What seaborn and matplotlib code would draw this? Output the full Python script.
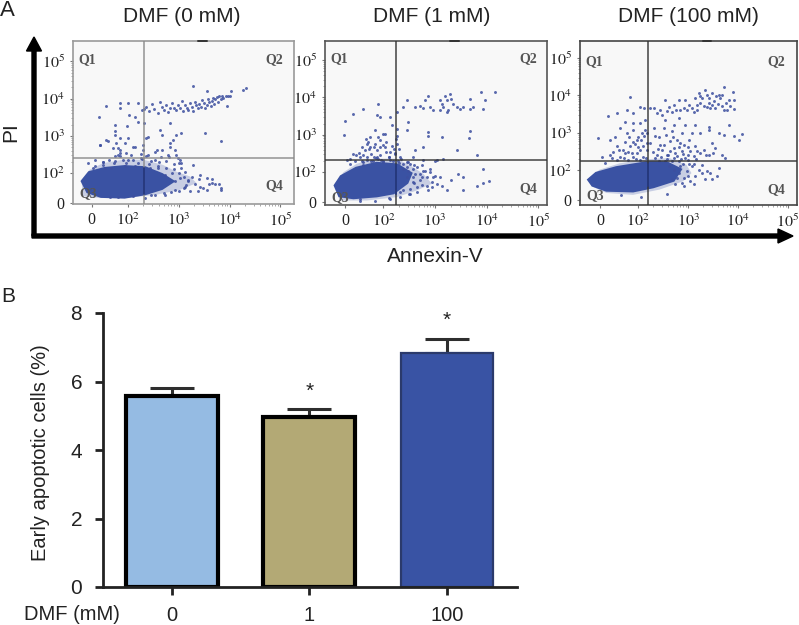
import matplotlib
matplotlib.use("Agg")
import matplotlib.pyplot as plt
import seaborn as sns
import numpy as np
from matplotlib.patches import FancyArrow

W, H = 799, 625

sns.set_style("white")
plt.rcParams["font.family"] = ["Liberation Sans", "DejaVu Sans"]
plt.rcParams["mathtext.fontset"] = "stix"

# bar chart values (panel B)
doses = ["0", "1", "100"]
means = [5.58, 4.97, 6.83]
errors = [0.24, 0.24, 0.40]
bar_colors = ["#95bbe3", "#b3a975", "#3953a4"]

# flow panels, titles and quadrant gates, all in decades of the biex axis
titles = ["DMF (0 mM)", "DMF (1 mM)", "DMF (100 mM)"]
gate_x = [2.31, 2.25, 2.20]
gate_y = [2.40, 2.33, 2.24]

# dense population outline
blob_0 = [(1.11,1.78),(1.24,2.00),(1.54,2.11),(1.93,2.16),(2.33,2.13),(2.66,1.95),(2.86,1.78),(2.66,1.60),
          (2.33,1.46),(1.93,1.37),(1.47,1.39),(1.21,1.51)]
blob_1 = [(1.08,1.64),(1.19,1.87),(1.48,2.09),(1.87,2.22),(2.26,2.18),(2.52,1.96),(2.45,1.73),(2.19,1.46),
          (1.87,1.38),(1.42,1.33),(1.16,1.38)]
blob_2 = [(1.03,1.75),(1.17,1.91),(1.57,2.06),(2.17,2.19),(2.57,2.19),(2.83,2.02),(2.70,1.75),(2.30,1.58),
          (1.90,1.47),(1.37,1.49),(1.10,1.62)]

# paler fringe round the dense population
halo_0 = [(1.08,1.82),(1.24,2.09),(1.51,2.27),(1.90,2.36),(2.30,2.36),(2.69,2.22),(2.95,2.04),(3.22,1.91),
          (3.35,1.73),(3.02,1.55),(2.56,1.42),(1.97,1.33),(1.44,1.33),(1.11,1.38)]
halo_1 = [(1.06,1.69),(1.23,2.00),(1.48,2.22),(1.81,2.36),(2.26,2.36),(2.52,2.18),(2.77,1.96),(2.94,1.69),
          (2.65,1.51),(2.26,1.33),(1.68,1.24),(1.16,1.24)]
halo_2 = [(1.02,1.80),(1.23,2.02),(1.63,2.19),(2.17,2.30),(2.63,2.33),(2.97,2.15),(3.07,1.93),(2.90,1.71),
          (2.43,1.49),(1.90,1.35),(1.37,1.40),(1.07,1.58)]

# sparse events
events_0 = [(2.28,3.70),(2.32,3.72),(2.36,3.78),(2.42,3.66),(2.48,3.85),(2.52,3.72),(2.58,3.62),(2.62,3.90),(2.66,3.78),
    (2.70,3.70),(2.74,3.82),(2.78,3.65),(2.82,3.75),(2.86,3.88),(2.90,3.76),(2.94,3.70),(2.98,3.82),(3.02,3.74),(3.06,3.95),
    (3.08,3.68),(3.12,3.84),(3.16,3.76),(3.18,3.70),(3.22,3.88),(3.26,3.78),(3.28,3.68),(3.32,3.92),(3.34,3.82),(3.38,3.74),
    (3.40,3.86),(3.44,3.78),(3.46,3.96),(3.50,3.88),(3.52,3.76),(3.56,3.84),(3.58,3.98),(3.60,3.90),(3.64,3.80),(3.66,3.94),
    (3.68,4.02),(3.70,3.86),(3.72,3.98),(3.76,4.04),(3.78,3.92),(3.80,4.06),(3.84,4.00),(3.86,4.08),(3.88,4.02),(3.92,4.06),
    (3.96,4.06),(4.00,4.08),(4.02,4.20),(4.26,4.22),(4.32,4.28),(3.27,4.34),(3.55,4.20),(3.95,3.80),
    (1.57,3.79),(1.42,3.52),(1.84,3.89),(2.00,3.89),(2.20,3.89),(1.85,3.74),(1.74,3.29),(1.74,3.12),(2.02,3.56),(2.13,3.52),
    (1.97,3.27),(2.20,3.38),(2.31,3.34),(1.74,3.03),(1.84,2.94),(1.56,2.89),(1.44,2.76),(1.77,2.80),(2.00,2.94),(2.10,2.71),
    (2.36,2.94),(2.40,2.98),(2.63,3.16),(2.66,3.03),(2.82,3.34),(2.95,3.03),(3.05,3.07),(3.51,3.07),(3.84,2.85),(2.89,2.89),
    (2.30,2.76),(1.70,2.67),(1.84,2.62),(2.30,2.62),(2.56,2.62),(2.82,2.71),(2.95,2.49),(3.02,2.36),(1.80,2.49),(1.84,2.45),
    (1.95,2.55),(2.05,2.50),(2.25,2.52),(2.35,2.45),(2.65,2.42),(2.80,2.44),(1.35,2.35),(1.50,2.30),(1.62,2.36),(1.75,2.33),
    (1.90,2.36),(2.10,2.35),(2.28,2.38),(2.45,2.33),(2.60,2.30),(2.75,2.33),(2.90,2.25),(3.05,2.15),(3.00,2.28),
    (1.30,2.15),(1.50,2.22),(1.72,2.27),(1.96,2.28),(2.20,2.26),(2.42,2.24),(2.58,2.18),(2.74,2.15),(2.90,2.10),
    (3.00,2.00),(3.10,1.90),(3.18,1.78),(3.25,1.90),(3.32,1.72),(3.40,1.85),(3.48,1.60),(3.55,1.55),(3.60,1.72),(3.72,1.72),
    (3.80,1.70),(3.84,1.55),(3.10,1.60),(3.00,1.52),(2.85,1.50),(2.70,1.47),(3.15,1.68),(2.45,1.40),(2.10,1.38),(1.65,1.36),
    (1.21,2.27),(1.44,2.76),(1.61,2.85),(1.80,2.67),(1.93,2.80),(2.13,2.71),(1.34,2.18),(1.51,2.31),(1.74,2.45),(1.84,2.53),
    (2.00,2.36),(2.26,2.40),(2.40,2.49),(2.53,2.58),(2.53,2.36),(2.66,2.62),(2.79,2.49),(2.82,2.80),(2.92,2.62),(2.99,2.40),
    (3.05,2.27),(3.12,2.04),(3.28,2.22),(3.41,1.95),(3.55,1.87),(3.65,1.84),(3.65,1.73),(3.41,1.64),(3.38,1.51),(3.84,1.60),
    (3.18,1.82),(3.12,1.64),(3.22,1.51),(2.92,1.78),(3.02,1.87),(2.86,2.00),(2.72,1.95),(2.59,2.13),(2.43,2.13),(2.13,2.18),
    (1.93,2.18),(1.67,2.13),(2.72,1.42),(2.92,1.55),(2.33,1.33),(2.53,1.42),(1.80,1.37),(1.54,2.13)]
events_1 = [(2.26,3.61),(2.39,3.74),(2.45,3.92),(2.61,3.74),(2.71,3.76),(2.77,3.72),(2.87,4.05),(2.90,3.74),(2.97,3.65),
    (3.10,3.92),(3.13,3.83),(3.16,3.74),(3.19,4.05),(3.23,3.92),(3.26,3.65),(3.29,4.10),(3.32,3.96),(3.35,3.83),(3.42,3.74),
    (3.48,3.70),(3.55,3.74),(3.68,3.96),(3.68,3.70),(3.74,3.74),(3.90,4.14),(3.97,3.94),(3.94,3.70),(4.16,4.14),(3.23,3.61),
    (3.10,3.65),(2.81,3.92),(1.26,3.38),(1.42,3.56),(1.61,3.70),(1.90,3.83),(1.87,3.52),(1.94,3.47),(2.13,3.47),(2.16,3.25),
    (2.26,3.16),(2.26,2.98),(1.23,3.00),(1.84,3.12),(1.74,2.94),(1.94,2.85),(1.68,2.76),(1.58,2.67),(1.81,2.67),(2.03,2.67),
    (2.16,2.71),(2.26,2.76),(2.45,3.12),(2.48,3.34),(2.87,3.07),(2.87,2.96),(3.13,2.94),(3.68,3.10),(3.66,2.92),(2.77,2.67),
    (2.61,2.58),(3.42,2.58),(3.81,2.46),(1.42,2.49),(1.52,2.51),(1.61,2.45),(1.77,2.49),(1.94,2.47),(2.13,2.54),(2.32,2.40),
    (2.58,2.40),(2.77,2.33),(3.03,2.33),(3.16,2.36),(2.52,2.22),(2.65,2.13),(2.77,2.04),(2.58,1.87),(2.71,1.78),(2.84,1.87),
    (2.94,1.73),(3.03,1.69),(3.13,1.64),(3.23,1.51),(3.32,1.78),(3.45,1.96),(3.55,1.87),(3.55,1.51),(3.94,2.09),(3.94,1.71),
    (4.05,1.75),(3.81,1.64),(2.65,1.60),(2.52,1.55),(2.39,1.51),(2.32,1.46),(2.87,1.51),(2.71,1.96),(2.58,2.09),(2.45,2.13),
    (2.39,2.22),(2.29,2.31),(2.13,2.33),(1.55,2.40),(1.68,2.33),(1.29,2.33),(1.35,2.22),(1.72,2.62),(1.88,2.58),(2.00,2.72),
    (2.06,2.55),(2.20,2.62),(2.24,2.88),(1.66,2.90),(2.04,3.02),(2.10,2.40),(1.85,2.38),(1.95,2.33),(2.22,2.50),(2.30,2.62),
    (1.45,2.30),(1.60,2.28),(1.80,2.30),(2.00,2.28),(2.30,2.25),(2.46,2.28),(2.60,2.20),(2.74,2.18),(2.90,2.00),(3.00,1.90),
    (2.60,1.70),(2.75,1.65),(2.95,1.60),(2.50,1.42),(2.10,1.32),(1.55,1.28),
    (1.35,2.36),(1.48,2.45),(1.58,2.31),(1.68,2.40),(1.77,2.31),(1.87,2.40),(2.00,2.31),(2.10,2.40),(2.19,2.29),(1.65,2.58),
    (1.74,2.67),(1.84,2.76),(1.71,2.80),(1.94,2.67),(2.06,2.80),(1.90,2.94),(2.00,3.03),(1.81,2.40),(2.39,2.09),(2.48,2.04),
    (2.61,1.96),(2.45,1.87),(2.58,1.73),(2.74,1.87),(2.65,1.46),(2.52,1.42),(2.32,1.33),(2.13,1.29),(1.84,1.24),(1.55,1.24),
    (2.84,1.64),(2.97,1.87),(3.10,1.87),(2.81,2.04),(2.90,2.09),(3.00,2.31),(2.48,2.27),(2.35,2.36),(2.23,2.49),(1.61,2.18),(1.90,2.36)]
events_2 = [(3.21,4.06),(3.34,4.15),(3.47,4.06),(3.71,4.22),(3.89,4.10),(3.27,3.93),(3.41,3.93),(3.51,3.84),(3.64,3.93),
    (3.81,3.88),(3.91,3.88),(3.17,3.75),(3.31,3.72),(3.41,3.79),(3.54,3.66),(3.67,3.72),(3.71,3.62),(3.91,3.63),(2.91,3.66),
    (2.81,3.88),(2.71,3.75),(2.61,3.70),(2.54,3.88),(2.67,3.57),(3.01,3.75),(3.07,3.66),(3.11,3.57),(2.31,3.66),(2.24,3.66),
    (2.11,3.66),(2.37,3.53),(2.47,3.48),(2.84,3.62),(2.94,3.88),(3.14,3.93),(3.44,3.66),(3.61,4.01),(3.77,3.62),
    (4.07,2.98),(4.01,2.82),(3.91,2.93),(3.81,3.22),(3.71,2.95),(3.61,3.00),(3.41,3.09),(3.41,3.17),(3.24,3.00),(3.14,3.22),
    (3.07,3.00),(2.94,3.22),(2.81,3.39),(2.71,3.22),(2.67,3.04),(2.54,3.35),(2.51,3.13),(2.31,3.13),(2.14,3.09),(2.87,3.00),
    (3.01,2.82),(2.84,2.73),(2.64,2.78),(2.44,2.69),(2.24,2.73),(2.11,2.91),(3.14,2.64),(3.31,2.55),(3.47,2.73),(3.54,2.60),
    (3.41,2.42),(3.67,2.42),(3.74,2.33),(3.24,2.47),(3.04,2.51),(2.87,2.51),(2.71,2.60),(2.57,2.42),(2.37,2.42),(2.17,2.55),
    (2.77,2.38),(2.94,2.33),(3.11,2.39),(2.64,2.51),(2.47,2.55),
    (3.57,1.86),(3.47,1.78),(3.34,1.76),(3.27,1.94),(3.14,1.85),(3.11,1.63),(3.07,2.11),(2.97,1.98),(2.91,1.80),(2.81,1.94),
    (2.84,2.11),(2.71,2.02),(2.67,1.76),(2.61,2.11),(2.57,1.36),(2.87,1.67),(2.74,1.63),(3.21,2.02),(3.37,1.98),(3.61,2.07),
    (3.01,2.16),(2.54,2.24),(2.67,2.24),(2.81,2.24),(2.41,2.24),
    (1.83,3.96),(1.57,3.52),(1.40,3.45),(1.90,3.52),(1.77,3.61),(2.03,3.70),(1.20,2.86),(1.43,2.81),(1.63,3.12),(1.77,2.99),
    (1.90,3.08),(1.97,2.81),(1.57,2.64),(1.70,2.55),(1.83,2.64),(2.03,2.55),(2.10,2.64),(1.27,2.37),(1.43,2.42),(1.63,2.37),
    (1.90,2.37),(2.10,2.37),(1.33,2.19),(1.57,2.28),(1.80,2.28),(2.03,2.28),(1.90,2.77),(2.00,2.90),(2.07,2.99),(1.73,2.77),
    (1.53,2.90),(1.80,2.50),(1.97,2.46),(2.17,2.73),(2.17,2.99),(2.13,3.35),(2.03,3.26),(1.90,3.26),(1.73,3.30),(2.05,1.30),(1.65,1.35),
    (3.24,3.98),(3.38,4.00),(3.56,3.98),(3.68,4.02),(3.75,3.80),(3.24,3.80),(3.37,3.68),(3.48,3.74),(3.60,3.78),(3.84,3.72),
    (2.76,3.60),(2.58,3.58),(2.44,3.62),(2.98,3.60),(3.18,3.62),(2.34,2.92),(2.42,2.88),(2.56,2.95),(2.70,2.90),(2.78,2.80),
    (2.92,2.68),(3.00,2.62),(2.30,2.48),(2.40,2.58),(2.52,2.68),(2.60,2.40),(2.74,2.46),(2.82,2.62),(2.90,2.44),(3.00,2.40),
    (3.18,2.52),(3.36,2.40),(3.50,2.46),(2.34,2.34),(2.46,2.36),(2.58,2.30),(2.72,2.32),(2.86,2.30),(3.00,2.28),(3.16,2.30),
    (2.00,2.62),(1.88,2.46),(1.74,2.46),(1.62,2.54),(1.50,2.50),(1.94,2.70),(1.82,2.90),(2.06,2.82),(1.48,2.34),(1.72,2.32),
    (1.95,2.30),(2.16,2.32),(2.90,2.18),(3.12,2.18),(3.28,2.14),(3.44,1.92),(3.00,1.86),(2.78,1.80),(3.04,1.72),(2.92,1.58)]

# pixel frames of the panels: left, top, right, bottom
frames = [(73, 41, 294, 204), (325, 41, 547, 205), (580, 41, 797, 205)]
title_x = [182, 432, 688]
xlims = [(0.914, 5.27), (0.87, 5.17), (0.84, 5.18)]
ylims = [(1.17, 5.55), (1.12, 5.51), (1.08, 5.45)]
zero_x = [1.28, 1.26, 1.24]
line_cols = ["#8a8a8a", "#333333", "#333333"]
frame_cols = ["#9a9a9a", "#555555", "#444444"]
quad_labels = [
    [(1.19, 5.06), (4.89, 5.06), (1.21, 1.46), (4.89, 1.66)],
    [(1.15, 5.04), (4.81, 5.04), (1.16, 1.33), (4.81, 1.57)],
    [(1.13, 4.89), (4.77, 4.89), (1.15, 1.33), (4.77, 1.49)],
]
# where the vertical gate runs through the dense population
gate_in_blob = [(1.45, 2.15), (1.42, 2.18), (1.58, 2.17)]


def px_axes(fig, left, top, right, bottom):
    return fig.add_axes([left / W, 1 - bottom / H, (right - left) / W, (bottom - top) / H])


fig = plt.figure(figsize=(W / 100, H / 100), dpi=100)

blobs = [blob_0, blob_1, blob_2]
halos = [halo_0, halo_1, halo_2]
events = [events_0, events_1, events_2]
minor = np.concatenate([np.log10(np.arange(2, 10)) + d for d in range(2, 5)])

for i in range(3):
    ax = px_axes(fig, *frames[i])
    ax.set_facecolor("#f8f8f8")
    hx, hy = zip(*halos[i])
    ax.fill(hx, hy, color="#5a6fb5", lw=0, alpha=0.3, zorder=1)
    bx, by = zip(*blobs[i])
    ax.fill(bx, by, color="#3a52a3", lw=3, zorder=2)
    ex, ey = zip(*events[i])
    sns.scatterplot(x=list(ex), y=list(ey), ax=ax, s=4.5, color="#3d4f9f", linewidth=0, alpha=0.85, legend=False, zorder=3)
    ax.axvline(gate_x[i], color=line_cols[i], lw=1.2, alpha=0.85, zorder=4)
    ax.axhline(gate_y[i], color=line_cols[i], lw=1.2, alpha=0.85, zorder=4)
    ax.plot([gate_x[i], gate_x[i]], gate_in_blob[i], color="#26397f", lw=1.4, zorder=5)
    ax.set_xlim(xlims[i])
    ax.set_ylim(ylims[i])
    ax.set_xticks([zero_x[i], 2, 3, 4, 5])
    ax.set_xticklabels(["0", "$10^{2}$", "$10^{3}$", "$10^{4}$", "$10^{5}$"], fontsize=11.5)
    ax.set_yticks([1.2, 2, 3, 4, 5])
    ax.set_yticklabels(["0", "$10^{2}$", "$10^{3}$", "$10^{4}$", "$10^{5}$"], fontsize=11.5)
    ax.set_xticks(minor, minor=True)
    ax.set_yticks(minor, minor=True)
    ax.tick_params(which="major", length=2, width=0.8, color="#777777", pad=4, left=True, bottom=True)
    ax.tick_params(which="minor", length=1.5, width=0.6, color="#999999", left=True, bottom=True)
    for lab in ax.get_xticklabels() + ax.get_yticklabels():
        lab.set_family("Liberation Serif")
        lab.set_color("#222222")
    for s in ax.spines.values():
        s.set_visible(True)
        s.set_color(frame_cols[i])
        s.set_linewidth(1.2)
    for (qx, qy), q in zip(quad_labels[i], ["Q1", "Q2", "Q3", "Q4"]):
        ax.text(qx, qy, q, fontsize=10, family="Liberation Serif", weight="bold", color="#555555", ha="center", va="center", zorder=6)
    # little dash on the top edge
    ax.plot([0.565, 0.605], [1, 1], transform=ax.transAxes, color="#333333", lw=1.4, clip_on=False, zorder=6)
    fig.text(title_x[i] / W, 1 - 16 / H, titles[i], fontsize=15, ha="center", va="center", color="#222222")

# the big L shaped arrows under panel A
over = fig.add_axes([0, 0, 1, 1], facecolor="none")
over.set_xlim(0, W)
over.set_ylim(H, 0)
over.axis("off")
over.add_patch(FancyArrow(34, 236, 0, -199, width=4, head_width=15, head_length=14, length_includes_head=True, color="black"))
over.add_patch(FancyArrow(32, 236, 761, 0, width=4, head_width=14, head_length=15, length_includes_head=True, color="black"))
over.text(435, 257, "Annexin-V", fontsize=15, ha="center", va="center", color="#222222")
over.text(11, 132, "PI", fontsize=15, rotation=90, ha="center", va="center", color="#222222")
over.text(0, 11, "A", fontsize=16, ha="left", va="center", color="#222222")
over.text(1, 297, "B", fontsize=15, ha="left", va="center", color="#222222")
over.text(72, 614, "DMF (mM)", fontsize=14.5, ha="center", va="center", color="#222222")

# panel B
ax = px_axes(fig, 103, 313, 517, 587)
sns.barplot(x=doses, y=means, hue=doses, hue_order=doses, palette=bar_colors, saturation=1,
            width=0.667, legend=False, ax=ax, zorder=2)
edge_cols = ["black", "black", "#2b3a6b"]
edge_w = [3.0, 3.0, 1.6]
for bar, c, w in zip(ax.patches, edge_cols, edge_w):
    bar.set_edgecolor(c)
    bar.set_linewidth(w)
ax.errorbar(range(3), means, yerr=[[0, 0, 0], errors], fmt="none", ecolor="#2e2e2e", elinewidth=2.2, capsize=16, capthick=2.2, zorder=1)
ax.set_xlim(-0.50, 2.51)
ax.set_ylim(0, 8)
ax.set_yticks([0, 2, 4, 6, 8])
ax.tick_params(axis="y", labelsize=15, length=6, width=2, color="#222222", left=True, pad=9, labelcolor="#222222")
ax.tick_params(axis="x", labelsize=14.5, length=6, width=2, color="#222222", bottom=True, pad=8, labelcolor="#222222")
ax.set_ylabel("Early apoptotic cells (%)", fontsize=14.5, color="#222222")
ax.yaxis.set_label_coords(-0.128, 0.489)
sns.despine(ax=ax)
for s in ["left", "bottom"]:
    ax.spines[s].set_linewidth(2)
    ax.spines[s].set_color("#222222")
ax.text(1, 5.72, "*", fontsize=15, ha="center", va="center", color="#222222")
ax.text(2, 7.8, "*", fontsize=15, ha="center", va="center", color="#222222")

fig.savefig("out.png", dpi=100)
